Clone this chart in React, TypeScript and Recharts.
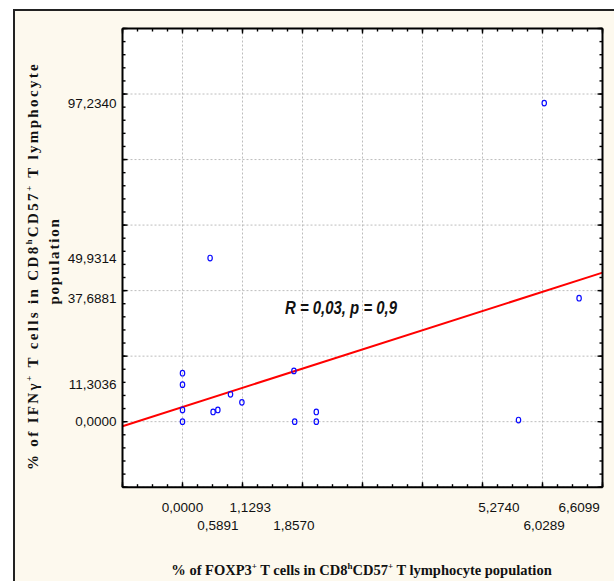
import { ScatterChart, Scatter, XAxis, YAxis, CartesianGrid, ReferenceLine } from 'recharts'

// % FOXP3+ (x) and % IFNg+ (y)
const foxp3 = [0, 0, 0, 0, 0.46, 0.51, 0.5891, 0.8, 0.99, 1.857, 1.87, 2.23, 2.23, 5.6, 6.0289, 6.6099]
const ifng = [14.8, 11.3036, 3.6, 0, 49.9314, 2.96, 3.57, 8.36, 5.9, 15.5, 0, 2.96, 0, 0.5, 97.234, 37.6881]

const xTicks = [0, 0.5891, 1.1293, 1.857, 5.274, 6.0289, 6.6099]
const yTicks = [0, 11.3036, 37.6881, 49.9314, 97.234]

// regression line end points
const regX = [-1, 7]
const regY = [-1.4, 45.5]

const xDomain = [-1, 7]
const yDomain = [-20, 120]
const xMajor = Array.from({ length: 9 }, (_, i) => -1 + i)
const xMinor = Array.from({ length: 33 }, (_, i) => -1 + i * 0.25)
const yMajor = Array.from({ length: 8 }, (_, i) => -20 + i * 20)
const yMinor = Array.from({ length: 36 }, (_, i) => -20 + i * 4)

const points = foxp3.map((x, i) => ({ x, y: ifng[i] }))

const sans = "'Liberation Sans', Arial, sans-serif"
const serif = "'Liberation Serif', 'Times New Roman', serif"
const fmt = (v: number) => v.toFixed(4).replace('.', ',')

const XTick = ({ x, y, payload, index }: any) => (
	<text x={x} y={y + 25 + (index % 2) * 18} textAnchor='middle' fontSize={13.5} fontFamily={sans} fill='#111'>
		{fmt(payload.value)}
	</text>
)

const Ring = ({ cx, cy }: any) => (
	<ellipse cx={cx} cy={cy} rx={2.2} ry={2.8} fill='none' stroke='#0a0aff' strokeWidth={1.2} />
)

// text pieces, [string, superscript?]
const Rich = ({ parts }: { parts: [string, boolean][] }) => (
	<>
		{parts.map(([s, sup], i) => {
			const prevSup = i > 0 && parts[i - 1][1]
			const dy = sup ? -6 : prevSup ? 6 : 0
			return (
				<tspan key={i} dy={dy} fontSize={sup ? 9 : undefined}>
					{s}
				</tspan>
			)
		})}
	</>
)

const xTitle: [string, boolean][] = [
	['% of FOXP3', false],
	['+', true],
	[' T cells in CD8', false],
	['h', true],
	['CD57', false],
	['+', true],
	[' T lymphocyte population', false],
]
const yTitle: [string, boolean][] = [
	['% of IFNγ', false],
	['+', true],
	[' T cells in CD8', false],
	['h', true],
	['CD57', false],
	['+', true],
	[' T lymphocyte', false],
]

const line = { stroke: '#000', strokeWidth: 2 }
const tickLn = { stroke: '#000', strokeWidth: 1.4 }
const thin = 0.01
const noLabel = () => <g />
const common = { type: 'number' as const, interval: 0 as const, tick: noLabel, allowDataOverflow: true, tickLine: tickLn }

export default function App() {
	return (
		<div style={{ position: 'absolute', left: 0, top: 0, width: 614, height: 581, background: '#fff' }}>
			<div
				style={{
					position: 'absolute',
					left: 13,
					top: 9,
					right: 0,
					bottom: 0,
					background: '#fdf9ee',
					borderLeft: '2px solid #222',
					borderTop: '2px solid #222',
				}}
			/>
			<div style={{ position: 'absolute', left: 0, top: 0 }}>
				<ScatterChart width={614} height={581} margin={{ top: 28.5, right: 11.5, bottom: 0, left: 0 }}>
					<CartesianGrid xAxisId='bMaj' yAxisId='lMaj' stroke='#bdbdbd' strokeDasharray='2 2' fill='#ffffff' />
					<XAxis
						xAxisId='lab'
						dataKey='x'
						type='number'
						domain={xDomain}
						allowDataOverflow
						ticks={xTicks}
						interval={0}
						height={93.8}
						tickSize={0}
						tickMargin={0}
						tick={(p: any) => <XTick {...p} />}
						axisLine={false}
						tickLine={false}
					/>
					<YAxis
						yAxisId='lab'
						dataKey='y'
						type='number'
						domain={yDomain}
						allowDataOverflow
						ticks={yTicks}
						interval={0}
						width={122.5}
						tickSize={0}
						tickMargin={6}
						tickFormatter={fmt}
						tick={{ fontSize: 13.5, fontFamily: sans, fill: '#111' }}
						axisLine={false}
						tickLine={false}
					/>
					{/* inward ticks + frame on all four sides */}
					<XAxis xAxisId='bMaj' dataKey='x' orientation='bottom' mirror height={thin} domain={xDomain} ticks={xMajor} tickSize={5} axisLine={line} {...common} />
					<XAxis xAxisId='bMin' dataKey='x' orientation='bottom' mirror height={thin} domain={xDomain} ticks={xMinor} tickSize={3} axisLine={false} {...common} />
					<XAxis xAxisId='tMaj' dataKey='x' orientation='top' mirror height={thin} domain={xDomain} ticks={xMajor} tickSize={5} axisLine={line} {...common} />
					<XAxis xAxisId='tMin' dataKey='x' orientation='top' mirror height={thin} domain={xDomain} ticks={xMinor} tickSize={3} axisLine={false} {...common} />
					<YAxis yAxisId='lMaj' dataKey='y' orientation='left' mirror width={thin} domain={yDomain} ticks={yMajor} tickSize={5} axisLine={line} {...common} />
					<YAxis yAxisId='lMin' dataKey='y' orientation='left' mirror width={thin} domain={yDomain} ticks={yMinor} tickSize={3} axisLine={false} {...common} />
					<YAxis yAxisId='rMaj' dataKey='y' orientation='right' mirror width={thin} domain={yDomain} ticks={yMajor} tickSize={5} axisLine={line} {...common} />
					<YAxis yAxisId='rMin' dataKey='y' orientation='right' mirror width={thin} domain={yDomain} ticks={yMinor} tickSize={3} axisLine={false} {...common} />
					<ReferenceLine
						xAxisId='lab'
						yAxisId='lab'
						segment={[
							{ x: regX[0], y: regY[0] },
							{ x: regX[1], y: regY[1] },
						]}
						stroke='#ff0000'
						strokeWidth={2}
					/>
					<Scatter xAxisId='lab' yAxisId='lab' data={points} shape={(p: any) => <Ring {...p} />} isAnimationActive={false} />
				</ScatterChart>
			</div>
			<svg width={614} height={581} style={{ position: 'absolute', left: 0, top: 0, pointerEvents: 'none' }}>
				<text x={341} y={314} textAnchor='middle' fontSize={19} fontWeight='bold' fontStyle='italic' fontFamily={sans} textLength={112} lengthAdjust='spacingAndGlyphs' fill='#111'>
					R = 0,03, p = 0,9
				</text>
				<text x={361.5} y={574.5} textAnchor='middle' fontSize={14.5} fontWeight='bold' fontFamily={serif} fill='#111'>
					<Rich parts={xTitle} />
				</text>
				<text transform='translate(38,266) rotate(-90)' textAnchor='middle' fontSize={15} fontWeight='bold' fontFamily={serif} letterSpacing={2.35} fill='#111'>
					<Rich parts={yTitle} />
				</text>
				<text transform='translate(59,261) rotate(-90)' textAnchor='middle' fontSize={15} fontWeight='bold' fontFamily={serif} letterSpacing={1.8} fill='#111'>
					population
				</text>
			</svg>
		</div>
	)
}
